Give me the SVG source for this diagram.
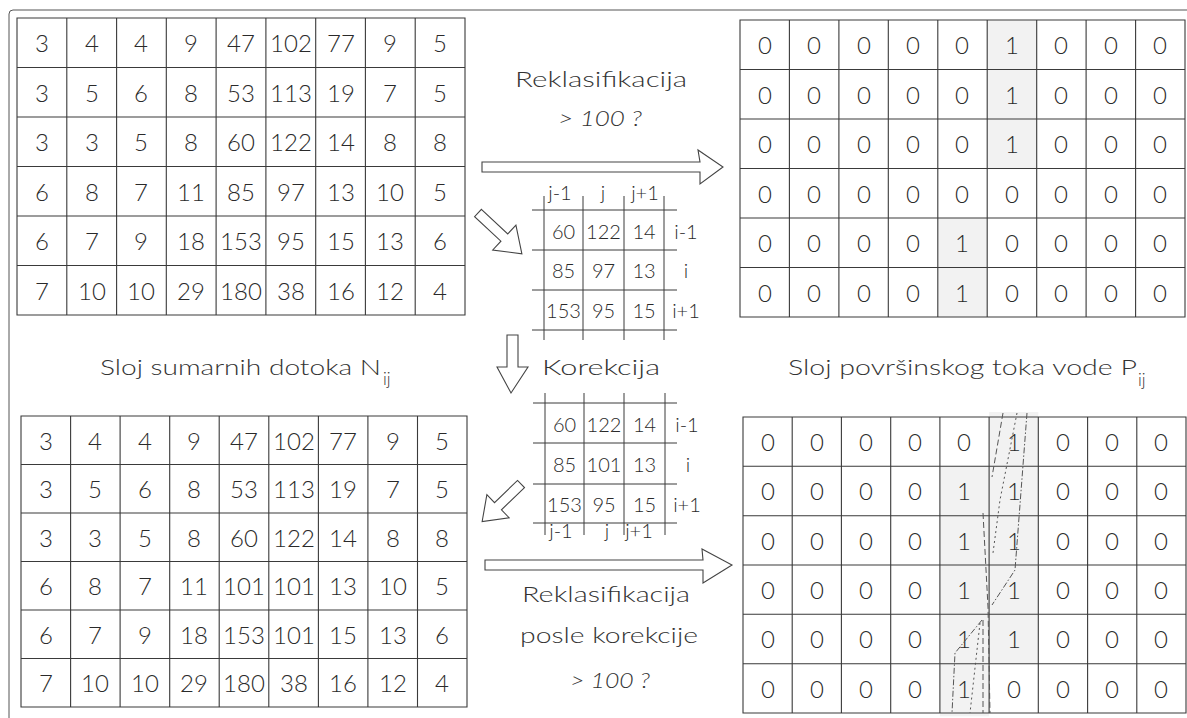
<svg xmlns="http://www.w3.org/2000/svg" width="1187" height="718" viewBox="0 0 1187 718">
<style>
.grid{fill:none;stroke:#3a3a3a;stroke-width:1.1}
.sgrid{fill:none;stroke:#3a3a3a;stroke-width:1}
.shade{fill:#f2f2f2}
.n{font-family:Lato,"Open Sans","Liberation Sans",sans-serif;font-weight:300;font-size:24px;fill:#2a2a2a;text-anchor:middle}
.s{font-family:Lato,"Open Sans","Liberation Sans",sans-serif;font-weight:300;font-size:20px;fill:#2a2a2a;text-anchor:middle}
.lbl{font-family:Lato,"Open Sans","Liberation Sans",sans-serif;font-weight:300;font-size:22px;fill:#333}
.sub{font-family:Lato,"Open Sans","Liberation Sans",sans-serif;font-weight:300;font-size:17px;fill:#333}
.arrow{fill:#fff;stroke:#444;stroke-width:1.1;stroke-linejoin:miter}
.path{fill:none;stroke:#555;stroke-width:1}
</style>
<rect width="1187" height="718" fill="#fff"/>
<path d="M9,718 L9,14 Q9,10 13,10 L1187,10" fill="none" stroke="#555" stroke-width="1"/>

<g id="grid-top-left">
<path class="grid" d="M17,18H465V315H17Z M66.8,18V315 M116.6,18V315 M166.3,18V315 M216.1,18V315 M265.9,18V315 M315.7,18V315 M365.4,18V315 M415.2,18V315 M17,67.5H465 M17,117H465 M17,166.5H465 M17,216H465 M17,265.5H465"/>
<g class="n">
<g transform="translate(0,52)"><text x="42">3</text><text x="92">4</text><text x="141">4</text><text x="191">9</text><text x="241">47</text><text x="291">102</text><text x="341">77</text><text x="390">9</text><text x="440">5</text></g>
<g transform="translate(0,102)"><text x="42">3</text><text x="92">5</text><text x="141">6</text><text x="191">8</text><text x="241">53</text><text x="291">113</text><text x="341">19</text><text x="390">7</text><text x="440">5</text></g>
<g transform="translate(0,151)"><text x="42">3</text><text x="92">3</text><text x="141">5</text><text x="191">8</text><text x="241">60</text><text x="291">122</text><text x="341">14</text><text x="390">8</text><text x="440">8</text></g>
<g transform="translate(0,201)"><text x="42">6</text><text x="92">8</text><text x="141">7</text><text x="191">11</text><text x="241">85</text><text x="291">97</text><text x="341">13</text><text x="390">10</text><text x="440">5</text></g>
<g transform="translate(0,250)"><text x="42">6</text><text x="92">7</text><text x="141">9</text><text x="191">18</text><text x="241">153</text><text x="291">95</text><text x="341">15</text><text x="390">13</text><text x="440">6</text></g>
<g transform="translate(0,300)"><text x="42">7</text><text x="92">10</text><text x="141">10</text><text x="191">29</text><text x="241">180</text><text x="291">38</text><text x="341">16</text><text x="390">12</text><text x="440">4</text></g>
</g>
</g>

<g id="grid-top-right">
<rect class="shade" x="987.2" y="20" width="49.5" height="148.5"/>
<rect class="shade" x="937.8" y="218" width="49.4" height="99"/>
<path class="grid" d="M740,20H1185V317H740Z M789.4,20V317 M838.9,20V317 M888.3,20V317 M937.8,20V317 M987.2,20V317 M1036.7,20V317 M1086.1,20V317 M1135.6,20V317 M740,69.5H1185 M740,119H1185 M740,168.5H1185 M740,218H1185 M740,267.5H1185"/>
<g class="n">
<g transform="translate(0,54)"><text x="765">0</text><text x="814">0</text><text x="864">0</text><text x="913">0</text><text x="962">0</text><text x="1012">1</text><text x="1061">0</text><text x="1111">0</text><text x="1160">0</text></g>
<g transform="translate(0,104)"><text x="765">0</text><text x="814">0</text><text x="864">0</text><text x="913">0</text><text x="962">0</text><text x="1012">1</text><text x="1061">0</text><text x="1111">0</text><text x="1160">0</text></g>
<g transform="translate(0,153)"><text x="765">0</text><text x="814">0</text><text x="864">0</text><text x="913">0</text><text x="962">0</text><text x="1012">1</text><text x="1061">0</text><text x="1111">0</text><text x="1160">0</text></g>
<g transform="translate(0,203)"><text x="765">0</text><text x="814">0</text><text x="864">0</text><text x="913">0</text><text x="962">0</text><text x="1012">0</text><text x="1061">0</text><text x="1111">0</text><text x="1160">0</text></g>
<g transform="translate(0,252)"><text x="765">0</text><text x="814">0</text><text x="864">0</text><text x="913">0</text><text x="962">1</text><text x="1012">0</text><text x="1061">0</text><text x="1111">0</text><text x="1160">0</text></g>
<g transform="translate(0,302)"><text x="765">0</text><text x="814">0</text><text x="864">0</text><text x="913">0</text><text x="962">1</text><text x="1012">0</text><text x="1061">0</text><text x="1111">0</text><text x="1160">0</text></g>
</g>
</g>

<g id="grid-bottom-left">
<path class="grid" d="M21,416H467V707H21Z M70.6,416V707 M120.1,416V707 M169.7,416V707 M219.2,416V707 M268.8,416V707 M318.4,416V707 M367.9,416V707 M417.5,416V707 M21,464.5H467 M21,513H467 M21,561.5H467 M21,610H467 M21,658.5H467"/>
<g class="n">
<g transform="translate(0,450)"><text x="46">3</text><text x="95">4</text><text x="145">4</text><text x="194">9</text><text x="244">47</text><text x="294">102</text><text x="343">77</text><text x="393">9</text><text x="442">5</text></g>
<g transform="translate(0,498)"><text x="46">3</text><text x="95">5</text><text x="145">6</text><text x="194">8</text><text x="244">53</text><text x="294">113</text><text x="343">19</text><text x="393">7</text><text x="442">5</text></g>
<g transform="translate(0,547)"><text x="46">3</text><text x="95">3</text><text x="145">5</text><text x="194">8</text><text x="244">60</text><text x="294">122</text><text x="343">14</text><text x="393">8</text><text x="442">8</text></g>
<g transform="translate(0,595)"><text x="46">6</text><text x="95">8</text><text x="145">7</text><text x="194">11</text><text x="244">101</text><text x="294">101</text><text x="343">13</text><text x="393">10</text><text x="442">5</text></g>
<g transform="translate(0,644)"><text x="46">6</text><text x="95">7</text><text x="145">9</text><text x="194">18</text><text x="244">153</text><text x="294">101</text><text x="343">15</text><text x="393">13</text><text x="442">6</text></g>
<g transform="translate(0,692)"><text x="46">7</text><text x="95">10</text><text x="145">10</text><text x="194">29</text><text x="244">180</text><text x="294">38</text><text x="343">16</text><text x="393">12</text><text x="442">4</text></g>
</g>
</g>

<g id="grid-bottom-right">
<rect class="shade" x="989.1" y="412" width="49.2" height="251.7"/>
<rect class="shade" x="939.9" y="466.3" width="49.2" height="250"/>
<path class="grid" d="M743,417H1186V713H743Z M792.2,417V713 M841.4,417V713 M890.7,417V713 M939.9,417V713 M989.1,417V713 M1038.3,417V713 M1087.6,417V713 M1136.8,417V713 M743,466.3H1186 M743,515.7H1186 M743,565H1186 M743,614.3H1186 M743,663.7H1186"/>
<g class="n">
<g transform="translate(0,451)"><text x="768">0</text><text x="817">0</text><text x="866">0</text><text x="915">0</text><text x="964">0</text><text x="1014">1</text><text x="1063">0</text><text x="1112">0</text><text x="1161">0</text></g>
<g transform="translate(0,500)"><text x="768">0</text><text x="817">0</text><text x="866">0</text><text x="915">0</text><text x="964">1</text><text x="1014">1</text><text x="1063">0</text><text x="1112">0</text><text x="1161">0</text></g>
<g transform="translate(0,550)"><text x="768">0</text><text x="817">0</text><text x="866">0</text><text x="915">0</text><text x="964">1</text><text x="1014">1</text><text x="1063">0</text><text x="1112">0</text><text x="1161">0</text></g>
<g transform="translate(0,599)"><text x="768">0</text><text x="817">0</text><text x="866">0</text><text x="915">0</text><text x="964">1</text><text x="1014">1</text><text x="1063">0</text><text x="1112">0</text><text x="1161">0</text></g>
<g transform="translate(0,648)"><text x="768">0</text><text x="817">0</text><text x="866">0</text><text x="915">0</text><text x="964">1</text><text x="1014">1</text><text x="1063">0</text><text x="1112">0</text><text x="1161">0</text></g>
<g transform="translate(0,698)"><text x="768">0</text><text x="817">0</text><text x="866">0</text><text x="915">0</text><text x="964">1</text><text x="1014">0</text><text x="1063">0</text><text x="1112">0</text><text x="1161">0</text></g>
</g>
<g id="flow-paths">
<path class="path" stroke-dasharray="6 3" d="M1003,413 L992,477"/>
<path class="path" stroke-dasharray="2 3" d="M1017,413 L1000,500 L993,553"/>
<path class="path" stroke-dasharray="6 2 1.5 2" d="M1027,413 L1015,570 L992,605"/>
<path class="path" stroke-dasharray="6 3" d="M983,513 L988,607 L990,713"/>
<path class="path" stroke-dasharray="6 2 1.5 2" d="M982,620 L955,653 L952,713"/>
<path class="path" stroke-dasharray="2 3" d="M980,623 L970,713"/>
<path class="path" stroke-dasharray="6 3" d="M983,620 L983,713"/>
</g>
</g>

<g id="window-before">
<path class="sgrid" d="M532,210H677 M532,250H677 M532,290H677 M532,330H677 M544,196V340 M583,196V340 M624,196V340 M664,196V340"/>
<g class="s">
<text x="560" y="200">j-1</text><text x="603" y="200">j</text><text x="645" y="200">j+1</text>
<text x="563.5" y="239">60</text><text x="603.5" y="239">122</text><text x="644" y="239">14</text><text x="686" y="239">i-1</text>
<text x="563.5" y="278">85</text><text x="603.5" y="278">97</text><text x="644" y="278">13</text><text x="686" y="278">i</text>
<text x="563.5" y="318">153</text><text x="603.5" y="318">95</text><text x="644" y="318">15</text><text x="686" y="318">i+1</text>
</g>
</g>

<g id="window-after">
<path class="sgrid" d="M533,403H677 M533,443H677 M533,484H677 M533,523H677 M545,393V535 M584,393V535 M624,393V535 M665,393V535"/>
<g class="s">
<text x="564.5" y="432">60</text><text x="604" y="432">122</text><text x="644.5" y="432">14</text><text x="687" y="432">i-1</text>
<text x="564.5" y="472">85</text><text x="604" y="472">101</text><text x="644.5" y="472">13</text><text x="688" y="472">i</text>
<text x="564.5" y="512">153</text><text x="604" y="512">95</text><text x="644.5" y="512">15</text><text x="687" y="512">i+1</text>
<text x="561" y="538">j-1</text><text x="607" y="538">j</text><text x="639" y="538">j+1</text>
</g>
</g>

<g id="labels">
<text class="lbl" x="515" y="87" textLength="172" lengthAdjust="spacingAndGlyphs">Reklasifikacija</text>
<text class="lbl" x="558" y="126" font-style="italic" textLength="84" lengthAdjust="spacingAndGlyphs">&gt; 100 ?</text>
<text class="lbl" x="100" y="375" textLength="281" lengthAdjust="spacingAndGlyphs">Sloj sumarnih dotoka N</text>
<text class="sub" x="383" y="385">ij</text>
<text class="lbl" x="542" y="375" textLength="118" lengthAdjust="spacingAndGlyphs">Korekcija</text>
<text class="lbl" x="788" y="375" textLength="349" lengthAdjust="spacingAndGlyphs">Sloj površinskog toka vode P</text>
<text class="sub" x="1138" y="386">ij</text>
<text class="lbl" x="522" y="602" textLength="168" lengthAdjust="spacingAndGlyphs">Reklasifikacija</text>
<text class="lbl" x="520" y="643" textLength="178" lengthAdjust="spacingAndGlyphs">posle korekcije</text>
<text class="lbl" x="570" y="688" font-style="italic" textLength="80" lengthAdjust="spacingAndGlyphs">&gt; 100 ?</text>
</g>

<g id="connectors">
<polygon class="arrow" points="482,162 700,162 698,150 723,167 700,184 700,172 482,172"/>
<polygon class="arrow" points="485,560 703,560 702,549 732,565 703,583 703,570 485,570"/>
<polygon class="arrow" points="507,335 518,335 518,367 528,367 511,393 497,367 507,367"/>
<polygon class="arrow" transform="translate(478,213) rotate(43)" points="0,-5 36,-5 36,-17 60,0 36,17 36,5 0,5"/>
<polygon class="arrow" transform="translate(521,484) rotate(136)" points="0,-5 32,-5 32,-16 54,0 32,16 32,5 0,5"/>
</g>
</svg>
